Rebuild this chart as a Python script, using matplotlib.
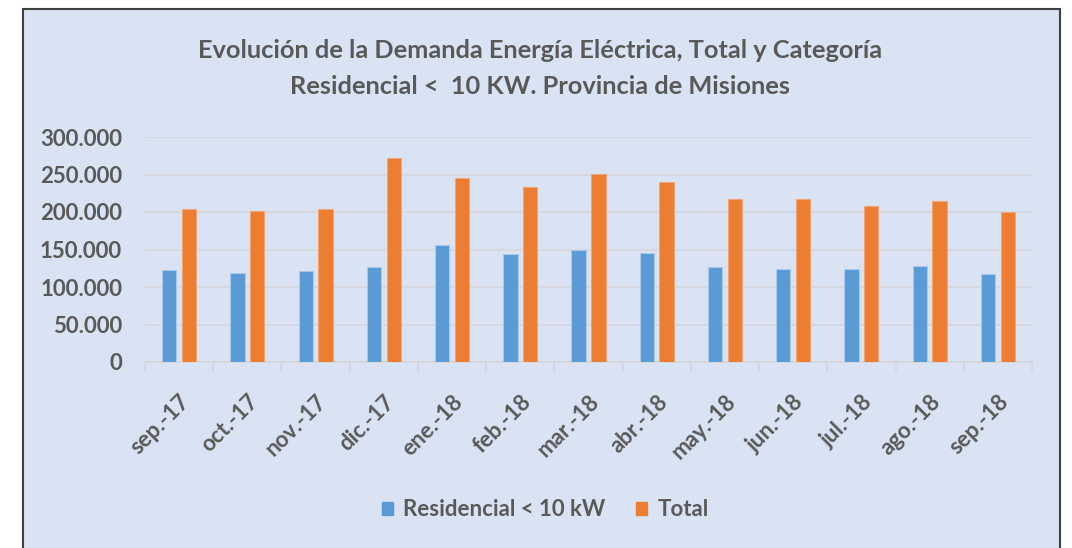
import matplotlib
matplotlib.use("Agg")
import matplotlib.pyplot as plt
from matplotlib.patches import Rectangle, Patch
from matplotlib.ticker import FuncFormatter
import numpy as np

months = ["sep.-17", "oct.-17", "nov.-17", "dic.-17", "ene.-18", "feb.-18", "mar.-18",
          "abr.-18", "may.-18", "jun.-18", "jul.-18", "ago.-18", "sep.-18"]
residencial = [122700, 119000, 120900, 126200, 155600, 143600, 149300,
               145300, 126300, 124500, 124500, 128000, 117800]
total = [204400, 200900, 204400, 272000, 246000, 234000, 251300,
         239400, 216800, 216800, 207800, 214900, 199500]

BLUE = "#5b9bd5"
ORANGE = "#ed7d31"
TEXT = "#595959"
BG = "#dae3f3"
GRID = "#d4d6da"

plt.rcParams["font.family"] = ["Lato", "DejaVu Sans"]

W, H = 1072, 548
fig = plt.figure(figsize=(W / 100, H / 100), dpi=100, facecolor="white")

# chart area box
fig.patches.append(Rectangle((23 / W, -0.05), (1060 - 23) / W, 1.05 - 9 / H,
                             transform=fig.transFigure, facecolor=BG,
                             edgecolor="#404040", linewidth=1.5, zorder=-5))

ax = fig.add_axes([145 / W, (H - 362) / H, (1032 - 145) / W, (362 - 137) / H])
ax.set_facecolor("none")
ax.set_zorder(2)

x = np.arange(len(months))
bw = 0.21
ax.bar(x - 0.145, residencial, width=bw, color=BLUE, edgecolor="#a9c8ea",
       linewidth=0.8, zorder=3)
ax.bar(x + 0.145, total, width=bw, color=ORANGE, edgecolor="#f2a678",
       linewidth=0.8, zorder=3)

ax.set_xlim(-0.5, len(months) - 0.5)
ax.set_ylim(0, 300000)
ax.set_yticks(np.arange(0, 300001, 50000))
ax.yaxis.set_major_formatter(FuncFormatter(lambda v, p: f"{int(v):,}".replace(",", ".")))
ax.grid(axis="y", color=GRID, linewidth=1.2, zorder=0)
ax.set_axisbelow(True)

for s in ["top", "right", "left"]:
    ax.spines[s].set_visible(False)
ax.spines["bottom"].set_color(GRID)
ax.spines["bottom"].set_linewidth(1.2)

ax.tick_params(axis="y", length=0, pad=16.5, labelsize=16, labelcolor=TEXT)
for lab in ax.get_yticklabels():
    lab.set_fontweight("bold")

ax.set_xticks(np.arange(len(months) + 1) - 0.5, minor=False)
ax.set_xticklabels([])
ax.tick_params(axis="x", which="major", length=7, color=GRID, width=1.2)
ax.set_xticks(x, minor=True)
ax.set_xticklabels(months, minor=True, rotation=45, ha="right", rotation_mode="anchor",
                   fontsize=16, color=TEXT, fontweight="bold")
ax.tick_params(axis="x", which="minor", length=0, pad=21)

fig.text(540 / W, 1 - 51 / H, "Evolución de la Demanda Energía Eléctrica, Total y Categoría",
         ha="center", va="center", fontsize=18.3, fontweight="bold", color=TEXT)
fig.text(540 / W, 1 - 87 / H, "Residencial <  10 KW. Provincia de Misiones",
         ha="center", va="center", fontsize=18.3, fontweight="bold", color=TEXT)

handles = [Patch(color=BLUE, label="Residencial < 10 kW"),
           Patch(color=ORANGE, label="Total")]
leg = fig.legend(handles=handles, loc="center", bbox_to_anchor=(545 / W, 1 - 510 / H),
                 ncol=2, frameon=False, handlelength=0.5, handleheight=0.5,
                 handletextpad=0.45, columnspacing=1.4,
                 prop={"size": 16, "weight": "bold"})
for t in leg.get_texts():
    t.set_color(TEXT)

fig.savefig("out.png", dpi=100, facecolor="white")
